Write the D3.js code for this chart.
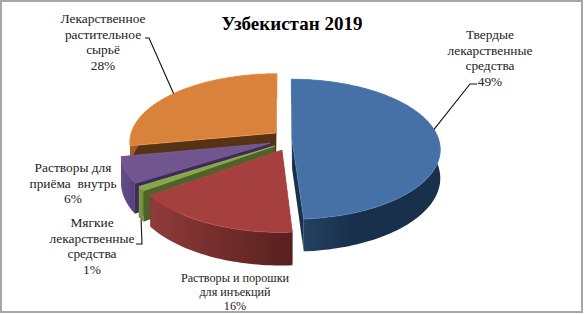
<!DOCTYPE html>
<html>
<head>
<meta charset="utf-8">
<script src="https://cdnjs.cloudflare.com/ajax/libs/d3/7.8.5/d3.min.js"></script>
<style>
  html, body { margin: 0; padding: 0; background: #fff; }
  text { font-family: "Liberation Serif", "Times New Roman", serif; fill: #222; }
</style>
</head>
<body>
<div id="chart"></div>
<script>
const title = "Узбекистан 2019";
const categories = [
    ["Твердые", "лекарственные", "средства"],
    ["Растворы и порошки", "для инъекций"],
    ["Мягкие", "лекарственные", "средства"],
    ["Растворы для", "приёма  внутрь"],
    ["Лекарственное", "растительное", "сырьё"]
];
const shares = [49, 16, 1, 6, 28];

const width = 584, height = 314;

// per slice look, same order as the data
const topColors = ["#4671a6", "#a5403e", "#86a54a", "#71558f", "#d9823b"];
const cutColors = ["#1b3149", "#5c2220", "#4f6229", "#3f2b58", "#573315"];
const wallDark = ["#18304b", "#57201e", "#6f8a3c", "#54417a", "#7a4a1e"];
const wallLight = ["#274668", "#8f3b39", "#7c9a42", "#644f8a", "#a0602a"];
// how far each slice is pulled out, in radius units (x, toward the viewer)
const explode = [[0.048, 0.044], [-0.02, 0.187], [-0.07, 0.13], [-0.10, 0.09], [-0.062, -0.06]];
// label position (centre x, first baseline) and leader elbow
const labelPos = [[490, 39], [235, 282], [92, 227], [73, 172], [103, 23]];
const leaders = [
    { i: 0, angle: 81, depth: 0, elbow: [[477, 84], [470, 84]] },
    { i: 2, angle: null, depth: 1, elbow: [[136, 244], [142, 244]] },
    { i: 4, angle: null, depth: 0, elbow: [[145, 38], [149, 38]] }
];
const lineGap = [15.6, 14.2, 15.5, 15.6, 15.6];
const fontSize = [13.4, 12.2, 13.4, 13.4, 13.4];

const perspective = 0.13, depth = 28;
const cx = 285, cy = 137, rx = 146, ry = 68;
const xScale = d3.scaleLinear().domain([-1, 1]).range([cx - rx, cx + rx]);
const yScale = d3.scaleLinear().domain([-1, 1]).range([cy - ry, cy + ry]);

const svg = d3.select("#chart").append("svg")
    .attr("width", width)
    .attr("height", height)
    .style("display", "block");

svg.append("rect")
    .attr("x", 1).attr("y", 1)
    .attr("width", width - 3).attr("height", height - 3)
    .attr("fill", "#fff")
    .attr("stroke", "#a6a6a6")
    .attr("stroke-width", 2);

const defs = svg.append("defs");

// pie plane -> screen, things nearer the viewer get bigger
function project(u, v, low) {
    const s = 1 / (1 - perspective * v);
    return [xScale(u * s), yScale(v * s) + (low ? depth * s : 0)];
}

function rimPoint(i, a, low) {
    const [ox, oy] = explode[i];
    return project(ox + Math.sin(a), oy - Math.cos(a), low);
}

function apexPoint(i, low) {
    const [ox, oy] = explode[i];
    return project(ox, oy, low);
}

const pie = d3.pie().sort(null).value(d => d)(shares);
const line = d3.line().curve(d3.curveLinearClosed);

const slices = pie.map(d => {
    const n = Math.max(4, Math.round((d.endAngle - d.startAngle) * 40));
    const angles = d3.range(n + 1).map(k => d.startAngle + (d.endAngle - d.startAngle) * k / n);
    return { i: d.index, start: d.startAngle, end: d.endAngle, angles };
});

// back to front
const order = [4, 3, 2, 1, 0];
order.forEach(i => {
    const sl = slices[i];
    const g = svg.append("g");

    [sl.start, sl.end].forEach(a => {
        g.append("path")
            .attr("d", line([apexPoint(i, false), rimPoint(i, a, false), rimPoint(i, a, true), apexPoint(i, true)]))
            .attr("fill", cutColors[i]);
    });

    const upper = sl.angles.map(a => rimPoint(i, a, false));
    const lower = sl.angles.map(a => rimPoint(i, a, true)).reverse();
    const gradId = "wall" + i;
    const xs = upper.map(p => p[0]);
    const grad = defs.append("linearGradient")
        .attr("id", gradId)
        .attr("gradientUnits", "userSpaceOnUse")
        .attr("x1", i === 0 ? d3.max(xs) : d3.min(xs)).attr("y1", 0)
        .attr("x2", i === 0 ? d3.min(xs) : d3.max(xs)).attr("y2", 0);
    grad.append("stop").attr("offset", i === 0 ? "0.6" : "0").attr("stop-color", i === 0 ? wallDark[i] : wallLight[i]);
    grad.append("stop").attr("offset", "1").attr("stop-color", i === 0 ? wallLight[i] : wallDark[i]);
    g.append("path")
        .attr("d", line(upper.concat(lower)))
        .attr("fill", `url(#${gradId})`);

    g.append("path")
        .attr("d", line([apexPoint(i, false)].concat(upper)))
        .attr("fill", topColors[i])
        .attr("stroke", d3.color(topColors[i]).brighter(0.5))
        .attr("stroke-width", 0.6);
});

// leader lines
leaders.forEach(l => {
    const sl = slices[l.i];
    const a = l.angle === null ? (sl.start + sl.end) / 2 : l.angle * Math.PI / 180;
    const pts = l.elbow.concat([rimPoint(l.i, a, l.depth === 1)]);
    svg.append("path")
        .attr("d", d3.line()(pts))
        .attr("fill", "none")
        .attr("stroke", "#111")
        .attr("stroke-width", 1.1);
});

// labels
categories.forEach((lines, i) => {
    const t = svg.append("text")
        .attr("text-anchor", "middle")
        .attr("font-size", fontSize[i]);
    lines.concat([shares[i] + "%"]).forEach((txt, k) => {
        t.append("tspan")
            .attr("x", labelPos[i][0])
            .attr("y", labelPos[i][1] + k * lineGap[i])
            .style("white-space", "pre")
            .text(txt);
    });
});

svg.append("text")
    .attr("x", 292).attr("y", 30)
    .attr("text-anchor", "middle")
    .attr("font-size", 19)
    .attr("font-weight", "bold")
    .style("fill", "#000")
    .text(title);
</script>
</body>
</html>
